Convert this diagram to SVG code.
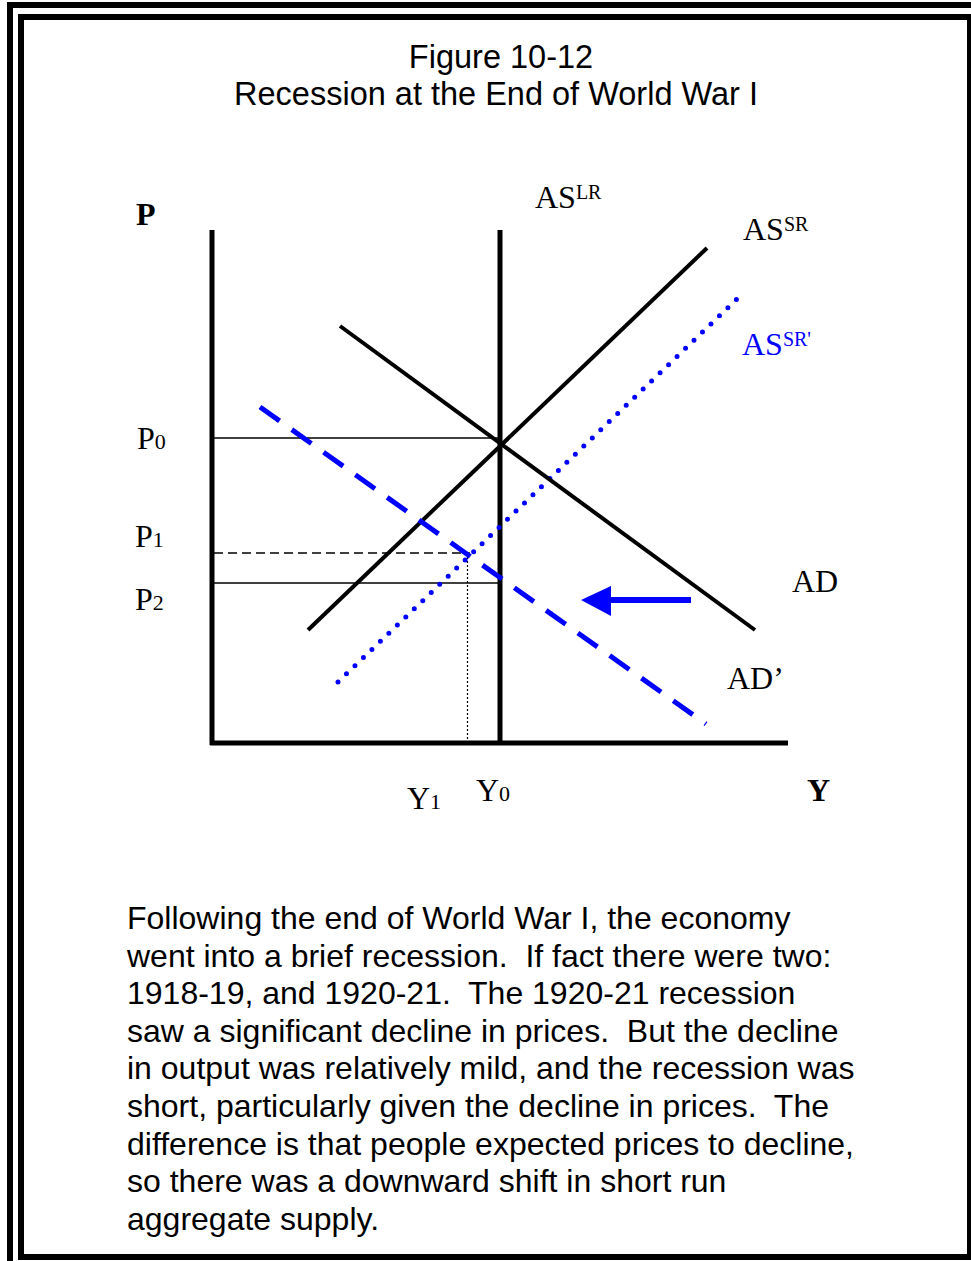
<svg xmlns="http://www.w3.org/2000/svg" width="971" height="1261" viewBox="0 0 971 1261">
<style>
.sans{font-family:"Liberation Sans",Arial,sans-serif;fill:#000}
.ser{font-family:"Liberation Serif","Times New Roman",serif;fill:#000}
.lbl{font-size:32px}
.sub{font-size:22px}
.sup{font-size:20px}
.blue{fill:#0000ff}
.ax{stroke:#000;stroke-width:5;fill:none}
.curve{stroke:#000;stroke-width:4;fill:none}
.thin{stroke:#000;stroke-width:1.5;fill:none}
</style>
<rect width="971" height="1261" fill="#fff"/>
<g id="frame">
<line x1="7" y1="5" x2="971" y2="5" stroke="#000" stroke-width="6"/>
<line x1="10" y1="2" x2="10" y2="1261" stroke="#000" stroke-width="6"/>
<rect x="21" y="17" width="949" height="1240" fill="none" stroke="#000" stroke-width="6"/>
</g>
<g id="title">
<text class="sans" x="501" y="68" font-size="32.5" text-anchor="middle">Figure 10-12</text>
<text class="sans" x="496" y="105" font-size="32.5" text-anchor="middle">Recession at the End of World War I</text>
</g>
<g id="axes">
<line class="ax" x1="212" y1="230" x2="212" y2="745"/>
<line class="ax" x1="210" y1="743" x2="788" y2="743"/>
</g>
<g id="connectors">
<line class="thin" x1="214" y1="438" x2="499" y2="438"/>
<line class="thin" x1="214" y1="553" x2="470" y2="553" stroke-dasharray="9 5"/>
<line class="thin" x1="214" y1="583" x2="499" y2="583"/>
<line x1="467.5" y1="553" x2="467.5" y2="741" stroke="#000" stroke-width="1.2" stroke-dasharray="2 2"/>
</g>
<g id="AS-LR">
<line class="ax" x1="500" y1="230" x2="500" y2="743"/>
<text class="ser lbl" x="535" y="208">AS<tspan class="sup" dy="-9">LR</tspan></text>
</g>
<g id="AS-SR">
<line class="curve" x1="308" y1="630" x2="707" y2="248"/>
<text class="ser lbl" x="743" y="240">AS<tspan class="sup" dy="-9">SR</tspan></text>
</g>
<g id="AS-SR-prime">
<line x1="338" y1="682" x2="738" y2="298" stroke="#0000ff" stroke-width="5" stroke-linecap="round" stroke-dasharray="0 11.75"/>
<text class="ser lbl blue" x="742" y="355">AS<tspan class="sup" dy="-9">SR'</tspan></text>
</g>
<g id="AD">
<line class="curve" x1="340" y1="326" x2="755" y2="630"/>
<text class="ser lbl" x="792" y="592">AD</text>
</g>
<g id="AD-prime">
<line x1="260" y1="407" x2="706" y2="724" stroke="#0000ff" stroke-width="5" stroke-dasharray="24 15"/>
<text class="ser lbl" x="727" y="689">AD’</text>
</g>
<g id="shift-arrow">
<line x1="691" y1="600" x2="605" y2="600" stroke="#0000ff" stroke-width="6"/>
<polygon points="581,600 611,586 611,616" fill="#0000ff"/>
</g>
<g id="labels">
<text class="ser" x="136" y="225" font-size="32" font-weight="bold">P</text>
<text class="ser lbl" x="137" y="449">P<tspan class="sub">0</tspan></text>
<text class="ser lbl" x="135" y="547">P<tspan class="sub">1</tspan></text>
<text class="ser lbl" x="135" y="610">P<tspan class="sub">2</tspan></text>
<text class="ser lbl" x="407" y="809">Y<tspan class="sub">1</tspan></text>
<text class="ser lbl" x="476" y="801">Y<tspan class="sub">0</tspan></text>
<text class="ser" x="807" y="801" font-size="32" font-weight="bold">Y</text>
</g>
<g id="caption">
<text class="sans" font-size="32" x="127" xml:space="preserve"><tspan x="127" y="929">Following the end of World War I, the economy</tspan><tspan x="127" y="967">went into a brief recession.  If fact there were two:</tspan><tspan x="127" y="1004">1918-19, and 1920-21.  The 1920-21 recession</tspan><tspan x="127" y="1042">saw a significant decline in prices.  But the decline</tspan><tspan x="127" y="1079">in output was relatively mild, and the recession was</tspan><tspan x="127" y="1117">short, particularly given the decline in prices.  The</tspan><tspan x="127" y="1155">difference is that people expected prices to decline,</tspan><tspan x="127" y="1192">so there was a downward shift in short run</tspan><tspan x="127" y="1230">aggregate supply.</tspan></text>
</g>
</svg>
